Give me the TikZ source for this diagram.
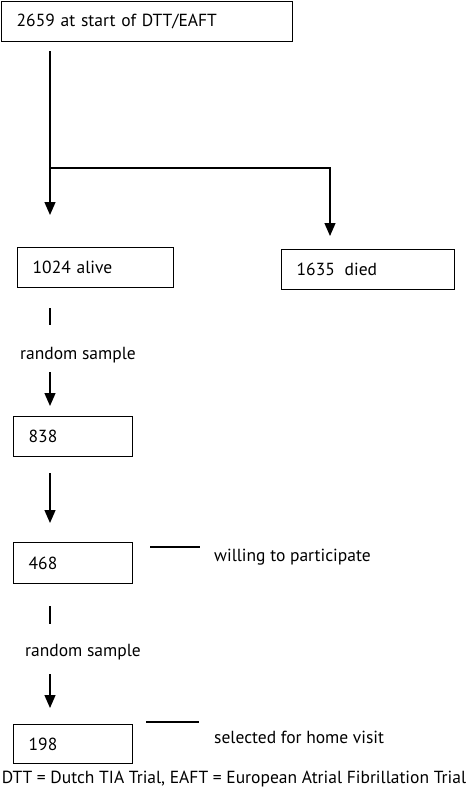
\documentclass[tikz,border=0pt]{standalone}
\usepackage{fontspec}
\setmainfont{PT Sans}
\usetikzlibrary{arrows.meta}
\tikzset{box/.style={draw, line width=1.4pt, anchor=north west, inner xsep=15pt, inner ysep=0pt, align=left, font=\fontsize{17.5}{20}\selectfont},
	label/.style={anchor=west, inner sep=0pt, font=\fontsize{17.5}{20}\selectfont},
	arr/.style={line width=1.3pt, -{Triangle[width=11pt,length=13pt]}},
	tick/.style={line width=1.3pt}
}

\begin{document}
\begin{tikzpicture}[x=1pt, y=-1pt]
			\useasboundingbox (0,0) rectangle (468,809);
			\node[box, text width=261pt, minimum height=40pt] (start) at (1,1) {2659 at start of DTT/EAFT};
			\node[box, text width=126pt, minimum height=40pt] (alive) at (17,247) {1024 alive};
			\node[box, text width=143pt, minimum height=40pt] (died) at (281,249) {1635\hspace{4pt} died};
			\node[label] (rs1) at (20,355) {random sample};
			\node[box, text width=89pt, minimum height=40pt] (n838) at (13,416) {838};
			\node[box, text width=89pt, minimum height=41pt] (n468) at (13,542) {468};
			\node[label] (willing) at (214,557) {willing to participate};
			\node[label] (rs2) at (25,652) {random sample};
			\node[box, text width=89pt, minimum height=39pt] (n198) at (13,724) {198};
			\node[label] (selected) at (214,737) {selected for home visit};
			\node[label, anchor=center] (foot) at (234,779) {DTT = Dutch TIA Trial, EAFT = European Atrial Fibrillation Trial};
			% main branch and split
			\coordinate (split) at ([xshift=49pt, yshift=-125.5pt]start.south west);
			\draw[arr, shorten <=9pt, shorten >=32pt] ([xshift=49pt]start.south west) -- ([xshift=33pt]alive.north west);
			\draw[arr, shorten >=13pt] (split) -| ([xshift=49pt]died.north west);
			% alive to 838
			\draw[tick] ([xshift=33pt, yshift=-20pt]alive.south west) -- ++(0,17);
			\coordinate (a838) at ([xshift=37pt]n838.north west);
			\draw[arr, shorten <=9pt, shorten >=10pt] (rs1.south -| a838) -- (a838);
			% 838 to 468
			\draw[arr, shorten <=16pt, shorten >=19pt] ([xshift=37pt]n838.south west) -- ([xshift=37pt]n468.north west);
			\draw[tick, shorten <=17pt, shorten >=14pt] ([yshift=-5pt]n468.north east) -- ([yshift=-5pt]n468.north east -| willing.west);
			% 468 to 198
			\draw[tick] ([xshift=37pt, yshift=-22pt]n468.south west) -- ++(0,18);
			\coordinate (a198) at ([xshift=37pt]n198.north west);
			\draw[arr, shorten <=14pt, shorten >=16pt] (rs2.south -| a198) -- (a198);
			\draw[tick, shorten <=13pt, shorten >=15pt] ([yshift=2pt]n198.north east) -- ([yshift=2pt]n198.north east -| selected.west);
		\end{tikzpicture}
\end{document}
